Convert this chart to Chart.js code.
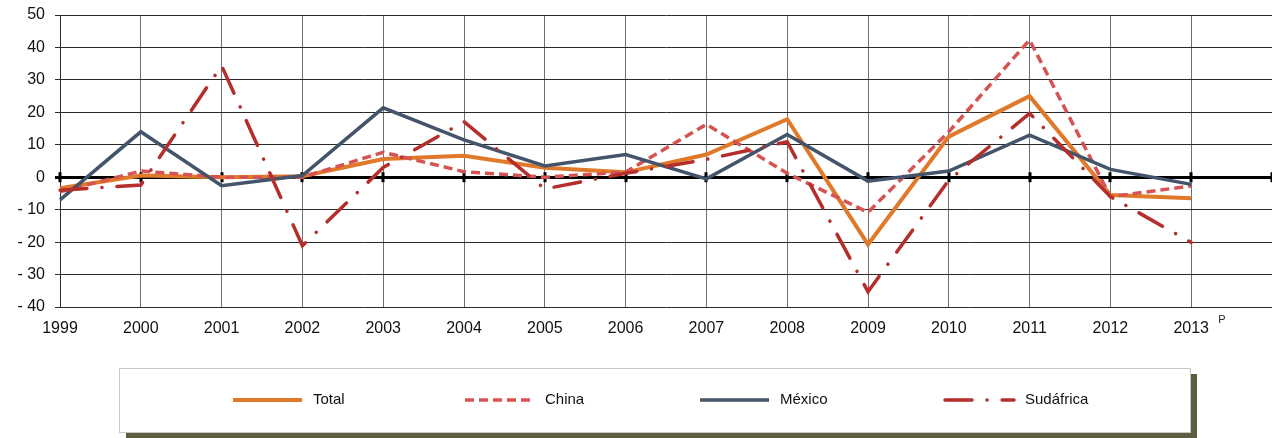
<!DOCTYPE html>
<html>
<head>
<meta charset="utf-8">
<script src="https://cdn.jsdelivr.net/npm/chart.js@4/dist/chart.umd.min.js"></script>
<style>
  html, body { margin: 0; padding: 0; background: #fff; }
  #wrap { width: 1272px; height: 438px; position: relative; }
</style>
</head>
<body>
<div id="wrap"><canvas id="chart" width="1272" height="438"></canvas></div>
<script>
// Data
const years = ['1999', '2000', '2001', '2002', '2003', '2004', '2005', '2006', '2007', '2008', '2009', '2010', '2011', '2012', '2013'];
const total = [-3.4, 0.5, 0, 0.3, 5.6, 6.6, 2.9, 1.5, 7.0, 17.9, -20.7, 12.5, 25.0, -5.5, -6.5];
const china = [-4.5, 1.9, 0, 0, 7.7, 1.7, 0, 1.6, 16.3, 1.2, -10.8, 14.0, 42.3, -6.0, -2.7];
const mexico = [-7.0, 14.0, -2.6, 0.5, 21.4, 11.5, 3.5, 7.0, -0.5, 13.2, -1.2, 1.9, 13.0, 2.4, -2.2];
const sudafrica = [-4.0, -2.4, 34.4, -21.1, 3.0, 17.1, -3.6, 1.2, 5.5, 10.9, -35.3, -0.9, 19.7, -6.0, -20.1];
const yTicks = { min: -40, max: 50, step: 10 };

const FONT = 'Arial, "Liberation Sans", sans-serif';

// zero line tick marks + "P" note
const extrasPlugin = {
    id: 'extras',
    beforeDatasetsDraw(chart) {
        const { ctx, scales: { x, y } } = chart;
        const y0 = y.getPixelForValue(0);
        ctx.save();
        ctx.fillStyle = '#000';
        for (let i = 0; i < x.ticks.length; i++) {
            const px = Math.round(x.getPixelForTick(i));
            ctx.fillRect(px - 1.5, y0 - 5, 3, 10);
        }
        ctx.restore();
    },
    afterDraw(chart) {
        const { ctx, scales: { x } } = chart;
        ctx.save();
        ctx.font = '11px ' + FONT;
        ctx.fillStyle = '#222';
        ctx.textAlign = 'left';
        ctx.textBaseline = 'middle';
        ctx.fillText('P', x.getPixelForTick(years.length - 1) + 27, 320);
        ctx.restore();
    }
};

// legend box at the bottom
const legendPlugin = {
    id: 'boxLegend',
    afterDraw(chart) {
        const { ctx } = chart;
        const bx = 119, by = 368, bw = 1071, bh = 64;
        ctx.save();
        ctx.fillStyle = '#5d5d3f';
        ctx.fillRect(bx + 7, by + 6, bw, bh);
        ctx.fillStyle = '#fff';
        ctx.fillRect(bx, by, bw, bh);
        ctx.strokeStyle = '#c8c8c0';
        ctx.lineWidth = 1;
        ctx.strokeRect(bx + 0.5, by + 0.5, bw, bh);

        const starts = [233, 465, 700, 945];
        const ly = 400;
        ctx.font = '15px ' + FONT;
        ctx.textBaseline = 'middle';
        ctx.textAlign = 'left';
        chart.data.datasets.forEach((ds, i) => {
            const sx = starts[i];
            ctx.save();
            ctx.strokeStyle = ds.borderColor;
            ctx.lineWidth = ds.borderWidth;
            ctx.lineCap = ds.borderCapStyle || 'butt';
            ctx.setLineDash(ds.borderDash || []);
            ctx.beginPath();
            ctx.moveTo(sx, ly);
            ctx.lineTo(sx + 69, ly);
            ctx.stroke();
            ctx.restore();
            ctx.fillStyle = '#111';
            ctx.fillText(ds.label, sx + 80, ly);
        });
        ctx.restore();
    }
};

const ctx = document.getElementById('chart').getContext('2d');

new Chart(ctx, {
    type: 'line',
    data: {
        labels: years.concat(['']),
        datasets: [
            {
                label: 'Total',
                data: total,
                borderColor: '#e07a2a',
                borderWidth: 4,
                order: 4
            },
            {
                label: 'China',
                data: china,
                borderColor: '#d65353',
                borderWidth: 3.5,
                borderDash: [9, 5],
                order: 3
            },
            {
                label: 'México',
                data: mexico,
                borderColor: '#44546a',
                borderWidth: 3.5,
                order: 2
            },
            {
                label: 'Sudáfrica',
                data: sudafrica,
                borderColor: '#b52e2c',
                borderWidth: 3.5,
                borderCapStyle: 'round',
                borderDash: [27, 15, 0.1, 15],
                order: 1
            }
        ]
    },
    options: {
        responsive: false,
        animation: false,
        maintainAspectRatio: false,
        layout: { padding: { top: 15, left: 0, right: 0, bottom: 0 } },
        elements: {
            point: { radius: 0, hoverRadius: 0 },
            line: { tension: 0 }
        },
        plugins: {
            legend: { display: false },
            tooltip: { enabled: false }
        },
        scales: {
            x: {
                offset: false,
                afterFit: (scale) => {
                    scale.height = 131;
                    scale.paddingLeft = 0;
                    scale.paddingRight = 0;
                },
                grid: {
                    color: '#707070',
                    lineWidth: 1,
                    drawTicks: false
                },
                border: { display: false },
                ticks: {
                    autoSkip: false,
                    maxRotation: 0,
                    padding: 12,
                    color: '#111',
                    font: { family: FONT, size: 16 }
                }
            },
            y: {
                min: yTicks.min,
                max: yTicks.max,
                afterFit: (scale) => {
                    scale.width = 60;
                    scale.paddingTop = 0;
                    scale.paddingBottom = 0;
                },
                grid: {
                    color: (c) => (c.tick && c.tick.value === 0 ? '#000' : '#2a2a2a'),
                    lineWidth: (c) => (c.tick && c.tick.value === 0 ? 3 : 1),
                    tickLength: 5
                },
                border: { color: '#2a2a2a', width: 1 },
                ticks: {
                    stepSize: yTicks.step,
                    padding: 10,
                    color: '#111',
                    font: { family: FONT, size: 16 },
                    callback: (v) => (v < 0 ? '- ' + Math.abs(v) : String(v))
                }
            }
        }
    },
    plugins: [extrasPlugin, legendPlugin]
});
</script>
</body>
</html>
